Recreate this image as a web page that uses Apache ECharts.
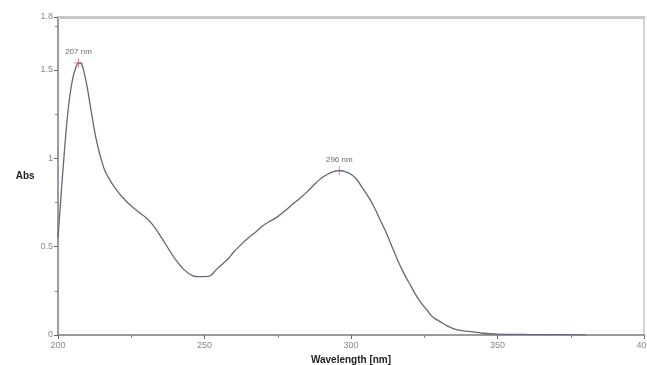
<!DOCTYPE html>
<html>
<head>
<meta charset="utf-8">
<script src="https://cdn.jsdelivr.net/npm/echarts@6/dist/echarts.min.js"></script>
<style>
  html, body { margin: 0; padding: 0; background: #fff; }
  #chart { width: 647px; height: 365px; }
</style>
</head>
<body>
<div id="chart"></div>
<script>
// wavelength (nm) and absorbance
const wavelengths = [200, 201, 202, 203, 204, 205, 206, 207, 208, 209, 210, 211, 212, 213, 214, 215, 216, 218, 220, 222,
    225, 228, 230, 232, 235, 238, 240, 243, 246, 248, 250, 252, 254, 256, 258, 260, 263, 265, 268, 270,
    273, 275, 278, 280, 283, 285, 288, 290, 292, 294, 296, 298, 300, 302, 304, 306, 308, 310, 312, 314,
    316, 318, 320, 322, 324, 326, 328, 330, 333, 336, 340, 345, 350, 360, 370, 380]
const absorbance = [0.55, 0.78, 1.0, 1.2, 1.35, 1.45, 1.51, 1.54, 1.535, 1.48, 1.40, 1.30, 1.20, 1.11, 1.04, 0.98, 0.93, 0.87, 0.82, 0.78,
    0.73, 0.69, 0.665, 0.63, 0.56, 0.48, 0.43, 0.37, 0.335, 0.33, 0.33, 0.335, 0.37, 0.40, 0.43, 0.47, 0.52, 0.55, 0.59, 0.62,
    0.65, 0.67, 0.71, 0.74, 0.78, 0.81, 0.86, 0.89, 0.91, 0.925, 0.93, 0.925, 0.91, 0.88, 0.83, 0.78, 0.72, 0.65, 0.58, 0.50,
    0.42, 0.35, 0.29, 0.23, 0.18, 0.14, 0.10, 0.08, 0.05, 0.03, 0.02, 0.01, 0.005, 0.003, 0.002, 0.001]

// picked peaks
const peakWavelengths = [207, 296]
const peakValues = [1.54, 0.93]
const peakLabels = ['207 nm', '296 nm']

const chart = echarts.init(document.getElementById('chart'))

const labelFont = {
    color: '#888',
    fontSize: 9,
    fontFamily: 'Liberation Sans'
}

const option = {
    backgroundColor: '#fff',
    animation: false,
    grid: {
        left: 58,
        right: 3,
        top: 17,
        bottom: 30,
        outerBoundsMode: 'none',
        show: true,
        borderColor: '#aaa',
        borderWidth: 1
    },
    xAxis: [{
        type: 'value',
        min: 200,
        max: 400,
        interval: 50,
        name: 'Wavelength [nm]',
        nameLocation: 'middle',
        nameGap: 19,
        nameTextStyle: {
            color: '#222',
            fontSize: 10,
            fontWeight: 'bold',
            fontFamily: 'Liberation Sans'
        },
        axisLine: { lineStyle: { color: '#888', width: 1.5 } },
        axisTick: { show: true, length: 4, lineStyle: { color: '#666' } },
        minorTick: { show: true, splitNumber: 2, length: 3, lineStyle: { color: '#888' } },
        splitLine: { show: false },
        axisLabel: Object.assign({ margin: 6 }, labelFont)
    }, {
        // top frame line
        type: 'value',
        position: 'top',
        min: 200,
        max: 400,
        axisLine: { lineStyle: { color: '#c8c8c8', width: 3 } },
        axisTick: { show: false },
        axisLabel: { show: false },
        splitLine: { show: false }
    }],
    yAxis: {
        type: 'value',
        min: 0,
        max: 1.8,
        interval: 0.5,
        name: 'Abs',
        nameLocation: 'middle',
        nameRotate: 0,
        nameGap: 20,
        nameTextStyle: {
            color: '#222',
            fontSize: 10,
            fontWeight: 'bold',
            fontFamily: 'Liberation Sans'
        },
        axisLine: { show: true, lineStyle: { color: '#888', width: 1.5 } },
        axisTick: { show: true, length: 4, lineStyle: { color: '#666' } },
        minorTick: { show: true, splitNumber: 2, length: 3, lineStyle: { color: '#888' } },
        splitLine: { show: false },
        axisLabel: Object.assign({ margin: 5 }, labelFont)
    },
    series: [{
        name: 'Abs',
        type: 'line',
        data: wavelengths.map((w, i) => [w, absorbance[i]]),
        showSymbol: false,
        smooth: 0.3,
        lineStyle: { color: '#66667a', width: 1.3 }
    }, {
        name: 'peaks',
        type: 'scatter',
        data: peakWavelengths.map((w, i) => [w, peakValues[i]]),
        symbol: 'path://M5,0 L5,10 M0,5 L10,5',
        symbolSize: 9,
        itemStyle: { color: 'none', borderColor: '#e0607a', borderWidth: 1 },
        label: {
            show: true,
            position: 'top',
            distance: 0,
            formatter: p => peakLabels[p.dataIndex],
            color: '#444',
            fontSize: 8,
            fontFamily: 'Liberation Sans'
        }
    }]
}
chart.setOption(option)
</script>
</body>
</html>
